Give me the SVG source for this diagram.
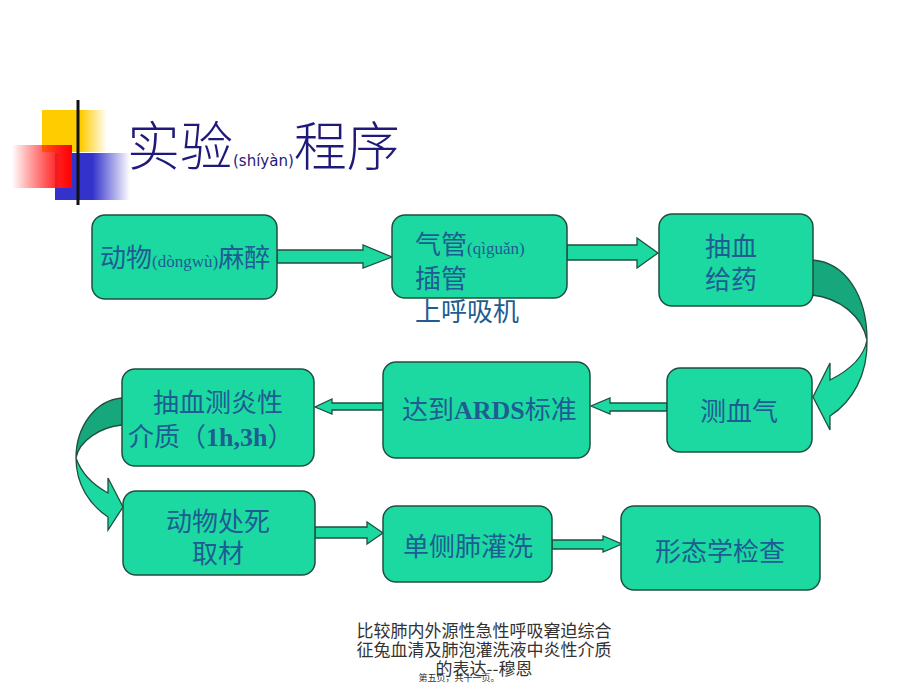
<svg xmlns="http://www.w3.org/2000/svg" width="920" height="690" viewBox="0 0 920 690">
<defs>
<linearGradient id="gY" x1="0" x2="1" y1="0" y2="0"><stop offset="0" stop-color="#ffcc00"/><stop offset="0.6" stop-color="#ffcc00"/><stop offset="1" stop-color="#ffcc00" stop-opacity="0"/></linearGradient>
<linearGradient id="gB" x1="0" x2="1" y1="0" y2="0"><stop offset="0" stop-color="#3333cc"/><stop offset="0.5" stop-color="#3333cc"/><stop offset="1" stop-color="#3333cc" stop-opacity="0"/></linearGradient>
<linearGradient id="gR" x1="0" x2="1" y1="0" y2="0"><stop offset="0" stop-color="#ff0000" stop-opacity="0"/><stop offset="0.8" stop-color="#ff1a1a"/><stop offset="1" stop-color="#ff0000"/></linearGradient>
<linearGradient id="gL" x1="0" x2="1" y1="0" y2="0"><stop offset="0" stop-color="#111"/><stop offset="0.4" stop-color="#333"/><stop offset="1" stop-color="#ddd"/></linearGradient>
<style>
.box{fill:#1cd9a2;stroke:#1f4f3f;stroke-width:1.5}
.arr{fill:#1cd9a2;stroke:#1f4f3f;stroke-width:1.3;stroke-linejoin:miter}
.dark{fill:#16a87c;stroke:#1f4f3f;stroke-width:1.3}
.t{font-family:"Noto Sans CJK SC","Noto Sans",sans-serif;font-size:26px;fill:#1e5c93}
.py{font-family:"Liberation Serif",serif;font-size:17px}
.en{font-family:"Liberation Serif",serif;font-weight:bold}
.title{font-family:"Noto Sans CJK SC",sans-serif;font-size:53px;fill:#1f1a7a;font-weight:300}
.foot{font-family:"Noto Sans CJK SC",sans-serif;font-size:17px;fill:#333;text-anchor:middle}
</style>
</defs>
<rect width="920" height="690" fill="#ffffff"/>
<g id="decor">
<rect x="42" y="110" width="65" height="42" fill="url(#gY)"/>
<rect x="55" y="153" width="75" height="47" fill="url(#gB)"/>
<rect x="12" y="145" width="60" height="43" fill="url(#gR)"/>
<line x1="78" y1="100" x2="78" y2="205" stroke="#111" stroke-width="3"/>
<line x1="43" y1="180" x2="915" y2="180" stroke="url(#gL)" stroke-width="3"/>
</g>
<g id="title">
<text x="127" y="166" class="title">实验<tspan style="font-family:'DejaVu Sans',sans-serif;font-size:15px;font-weight:normal">(shíyàn)</tspan>程序</text>
</g>
<g id="connectors">
<path class="arr" d="M277,250 L363,250 L363,245 L392,257 L363,268 L363,263 L277,263 Z"/>
<path class="arr" d="M567,245 L637,245 L637,238 L658,253 L637,268 L637,260 L567,260 Z"/>
<path class="arr" d="M667,403 L610,403 L610,398 L591,406 L610,414 L610,411 L667,411 Z"/>
<path class="arr" d="M383,403 L332,403 L332,399 L315,407 L332,414 L332,410 L383,410 Z"/>
<path class="arr" d="M315,527 L367,527 L367,522 L383,533 L367,544 L367,538 L315,538 Z"/>
<path class="arr" d="M552,540 L603,540 L603,536 L622,544 L603,552 L603,549 L552,549 Z"/>
<path class="dark" d="M812,260 C845,262 867,295 867,340 C862,316 840,298 812,295 Z"/>
<path class="arr" d="M867,340 C868,375 852,402 830,416 L830,430 L813,397 L830,363 L830,380 C850,370 864,357 867,340 Z"/>
<path class="dark" d="M122,398 C96,400 76,426 76,458 C79,441 100,427 122,425 Z"/>
<path class="arr" d="M76,458 C76,485 90,505 108,517 L108,530 L123,507 L108,478 L108,493 C95,486 82,475 76,458 Z"/>
</g>
<g id="n1">
<rect class="box" x="92" y="215" width="185" height="84" rx="13"/>
<text class="t" x="100" y="267" font-size="25">动物<tspan class="py">(dòngwù)</tspan>麻醉</text>
</g>
<g id="n2">
<rect class="box" x="392" y="215" width="175" height="83" rx="13"/>
<text class="t" x="415" y="254">气管<tspan class="py">(qìguǎn)</tspan></text>
<text class="t" x="415" y="288">插管</text>
<text class="t" x="415" y="321">上呼吸机</text>
</g>
<g id="n3">
<rect class="box" x="659" y="214" width="154" height="92" rx="13"/>
<text class="t" x="731" y="256" text-anchor="middle">抽血</text>
<text class="t" x="731" y="289" text-anchor="middle">给药</text>
</g>
<g id="n4">
<rect class="box" x="667" y="368" width="145" height="84" rx="13"/>
<text class="t" x="739" y="421" text-anchor="middle" font-size="27">测血气</text>
</g>
<g id="n5">
<rect class="box" x="383" y="362" width="207" height="96" rx="13"/>
<text class="t" x="402" y="419" font-size="25">达到<tspan class="en">ARDS</tspan>标准</text>
</g>
<g id="n6">
<rect class="box" x="122" y="369" width="192" height="97" rx="13"/>
<text class="t" x="218" y="412" text-anchor="middle" font-size="25">抽血测炎性</text>
<text class="t" x="128" y="446">介质（<tspan class="en">1h,3h</tspan>）</text>
</g>
<g id="n7">
<rect class="box" x="123" y="491" width="192" height="84" rx="13"/>
<text class="t" x="218" y="531" text-anchor="middle" font-size="27">动物处死</text>
<text class="t" x="218" y="563" text-anchor="middle" font-size="25">取材</text>
</g>
<g id="n8">
<rect class="box" x="383" y="506" width="169" height="76" rx="13"/>
<text class="t" x="468" y="556" text-anchor="middle">单侧肺灌洗</text>
</g>
<g id="n9">
<rect class="box" x="621" y="506" width="199" height="84" rx="13"/>
<text class="t" x="720" y="561" text-anchor="middle">形态学检查</text>
</g>
<g id="footer">
<text class="foot" x="484" y="637">比较肺内外源性急性呼吸窘迫综合</text>
<text class="foot" x="484" y="656">征兔血清及肺泡灌洗液中炎性介质</text>
<text class="foot" x="484" y="675">的表达--穆恩</text>
<text x="459" y="681" style="font-family:'Noto Sans CJK SC',sans-serif;font-size:9px;fill:#333;text-anchor:middle">第五页，共十一页。</text>
</g>
</svg>
